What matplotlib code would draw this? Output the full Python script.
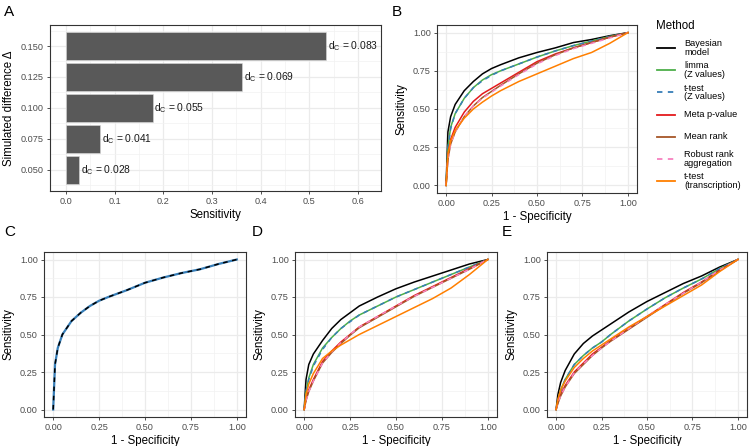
import matplotlib
matplotlib.use("Agg")
import matplotlib.pyplot as plt
from matplotlib.lines import Line2D
from matplotlib.ticker import MultipleLocator

plt.rcParams['font.family'] = ['Liberation Sans', 'DejaVu Sans']
plt.rcParams['mathtext.fontset'] = 'custom'
plt.rcParams['mathtext.rm'] = 'Liberation Sans'

# ---- panel A data ----
delta = [0.050, 0.075, 0.100, 0.125, 0.150]
sens = [0.027, 0.071, 0.178, 0.362, 0.535]
dc_labels = ["0.028", "0.041", "0.055", "0.069", "0.083"]

# ---- ROC data ----
fpr = [0, 0.01, 0.025, 0.05, 0.1, 0.15, 0.2, 0.25, 0.3, 0.4, 0.5, 0.6, 0.7, 0.8, 0.9, 1.0]

methods = ["Bayesian\nmodel", "limma\n(Z values)", "t-test\n(Z values)", "Meta p-value",
           "Mean rank", "Robust rank\naggregation", "t-test\n(transcription)"]
colors = ["#000000", "#4DAF4A", "#377EB8", "#E41A1C", "#A65628", "#F781BF", "#FF7F00"]
styles = ["-", "-", (0, (3, 3)), "-", "-", (0, (3, 3)), "-"]

b_bayes = [0, 0.35, 0.45, 0.53, 0.62, 0.68, 0.73, 0.765, 0.79, 0.835, 0.87, 0.90, 0.935, 0.955, 0.98, 1]
b_limma = [0, 0.25, 0.38, 0.47, 0.57, 0.64, 0.69, 0.725, 0.75, 0.795, 0.84, 0.88, 0.915, 0.945, 0.975, 1]
b_ttz = [0, 0.24, 0.37, 0.47, 0.57, 0.64, 0.685, 0.72, 0.75, 0.795, 0.84, 0.88, 0.915, 0.945, 0.975, 1]
b_meta = [0, 0.2, 0.3, 0.38, 0.48, 0.55, 0.6, 0.635, 0.67, 0.74, 0.81, 0.86, 0.90, 0.935, 0.97, 1]
b_mean = [0, 0.17, 0.27, 0.35, 0.45, 0.52, 0.575, 0.615, 0.655, 0.73, 0.80, 0.855, 0.90, 0.935, 0.97, 1]
b_rra = [0, 0.17, 0.27, 0.35, 0.45, 0.52, 0.57, 0.61, 0.65, 0.725, 0.795, 0.85, 0.895, 0.93, 0.965, 1]
b_ttt = [0, 0.2, 0.29, 0.36, 0.44, 0.5, 0.545, 0.585, 0.62, 0.68, 0.73, 0.78, 0.83, 0.87, 0.93, 1]

c_curve = [0, 0.3, 0.41, 0.5, 0.59, 0.645, 0.69, 0.725, 0.75, 0.795, 0.845, 0.88, 0.91, 0.935, 0.97, 1]

d_bayes = [0, 0.2, 0.3, 0.37, 0.46, 0.54, 0.6, 0.645, 0.69, 0.75, 0.805, 0.85, 0.89, 0.93, 0.97, 1]
d_limma = [0, 0.12, 0.21, 0.3, 0.41, 0.48, 0.54, 0.59, 0.63, 0.69, 0.75, 0.80, 0.85, 0.90, 0.95, 1]
d_ttz = [0, 0.12, 0.2, 0.29, 0.40, 0.48, 0.54, 0.585, 0.63, 0.69, 0.75, 0.80, 0.85, 0.90, 0.95, 1]
d_meta = [0, 0.07, 0.13, 0.2, 0.32, 0.39, 0.45, 0.5, 0.55, 0.62, 0.69, 0.76, 0.82, 0.88, 0.94, 1]
d_mean = [0, 0.06, 0.12, 0.19, 0.31, 0.38, 0.44, 0.495, 0.545, 0.615, 0.685, 0.755, 0.815, 0.875, 0.935, 1]
d_rra = [0, 0.06, 0.12, 0.19, 0.31, 0.385, 0.445, 0.5, 0.55, 0.62, 0.69, 0.755, 0.815, 0.875, 0.935, 1]
d_ttt = [0, 0.1, 0.17, 0.24, 0.34, 0.39, 0.43, 0.465, 0.5, 0.56, 0.62, 0.68, 0.74, 0.81, 0.90, 1]

e_bayes = [0, 0.1, 0.18, 0.26, 0.37, 0.44, 0.49, 0.53, 0.57, 0.65, 0.72, 0.78, 0.84, 0.89, 0.95, 1]
e_limma = [0, 0.06, 0.13, 0.2, 0.3, 0.36, 0.41, 0.45, 0.5, 0.59, 0.67, 0.745, 0.81, 0.87, 0.94, 1]
e_ttz = [0, 0.06, 0.12, 0.2, 0.3, 0.36, 0.41, 0.45, 0.5, 0.59, 0.67, 0.745, 0.81, 0.87, 0.94, 1]
e_meta = [0, 0.05, 0.1, 0.16, 0.25, 0.31, 0.37, 0.415, 0.46, 0.54, 0.62, 0.7, 0.78, 0.85, 0.93, 1]
e_mean = [0, 0.04, 0.09, 0.15, 0.24, 0.30, 0.36, 0.41, 0.455, 0.535, 0.615, 0.695, 0.775, 0.845, 0.925, 1]
e_rra = [0, 0.05, 0.09, 0.15, 0.245, 0.305, 0.36, 0.41, 0.455, 0.54, 0.62, 0.70, 0.775, 0.85, 0.93, 1]
e_ttt = [0, 0.07, 0.13, 0.19, 0.28, 0.34, 0.39, 0.43, 0.47, 0.55, 0.62, 0.69, 0.76, 0.83, 0.92, 1]

W, H = 749, 446
fig = plt.figure(figsize=(W / 100, H / 100), dpi=100)

TICK_FS = 6.6
TITLE_FS = 8.3


def px_axes(left, top, right, bottom):
    return fig.add_axes([left / W, 1 - bottom / H, (right - left) / W, (bottom - top) / H])


def style_axes(ax):
    ax.set_facecolor("white")
    for s in ax.spines.values():
        s.set_color("#333333")
        s.set_linewidth(0.8)
    ax.grid(which="major", color="#EBEBEB", linewidth=0.9)
    ax.grid(which="minor", color="#F2F2F2", linewidth=0.5)
    ax.set_axisbelow(True)
    ax.tick_params(which="major", length=2.5, width=0.6, color="#333333",
                   labelsize=TICK_FS, labelcolor="#4D4D4D", pad=2)
    ax.tick_params(which="minor", length=0)


def roc_axes(ax):
    style_axes(ax)
    ax.set_xlim(-0.05, 1.05)
    ax.set_ylim(-0.05, 1.05)
    ax.xaxis.set_major_locator(MultipleLocator(0.25))
    ax.yaxis.set_major_locator(MultipleLocator(0.25))
    ax.xaxis.set_minor_locator(MultipleLocator(0.125))
    ax.yaxis.set_minor_locator(MultipleLocator(0.125))
    ax.xaxis.set_major_formatter(lambda v, p: f"{v:.2f}")
    ax.yaxis.set_major_formatter(lambda v, p: f"{v:.2f}")
    ax.set_xlabel("1 - Specificity", fontsize=TITLE_FS, labelpad=2)
    ax.set_ylabel("Sensitivity", fontsize=TITLE_FS, labelpad=4)


# ---- A ----
axA = px_axes(50, 25, 381, 191)
style_axes(axA)
axA.barh(delta, sens, height=0.0225, color="#595959", edgecolor="#D9D9D9", linewidth=0.4)
for y, v, lab in zip(delta, sens, dc_labels):
    axA.text(v + 0.004, y, r"d$_\mathrm{C}$ = " + lab, va="center", ha="left",
             fontsize=7.4, color="#1A1A1A")
axA.set_xlim(-0.0325, 0.647)
axA.set_ylim(0.0327, 0.167)
axA.xaxis.set_major_locator(MultipleLocator(0.1))
axA.xaxis.set_minor_locator(MultipleLocator(0.05))
axA.yaxis.set_major_locator(MultipleLocator(0.025))
axA.yaxis.set_minor_locator(MultipleLocator(0.0125))
axA.xaxis.set_major_formatter(lambda v, p: f"{v:.1f}")
axA.yaxis.set_major_formatter(lambda v, p: f"{v:.3f}")
axA.set_xlabel("Sensitivity", fontsize=TITLE_FS, labelpad=2)
axA.set_ylabel("Simulated difference \u0394", fontsize=TITLE_FS, labelpad=4)

# ---- B ----
axB = px_axes(437, 25, 637, 193)
roc_axes(axB)
for vals, c, ls in zip([b_bayes, b_limma, b_ttz, b_meta, b_mean, b_rra, b_ttt], colors, styles):
    axB.plot(fpr, vals, color=c, linestyle=ls, linewidth=1.1)

# legend, drawn by hand so every key gets the same height (as ggplot does)
fig.text(656 / W, 1 - 26 / H, "Method", fontsize=TITLE_FS, ha="left", va="center")
for i, (lab, c, ls) in enumerate(zip(methods, colors, styles)):
    yc = 1 - (48 + 22.2 * i) / H
    fig.add_artist(Line2D([657 / W, 675 / W], [yc, yc], color=c, linestyle=ls,
                          linewidth=1.3, transform=fig.transFigure))
    fig.text(684 / W, yc, lab, fontsize=TICK_FS, ha="left", va="center", linespacing=0.95)

# ---- C ----
axC = px_axes(44, 252, 246, 417)
roc_axes(axC)
axC.plot(fpr, c_curve, color="#377EB8", linewidth=1.6)
axC.plot(fpr, c_curve, color="#000000", linestyle=(0, (3, 3)), linewidth=1.1)

# ---- D ----
axD = px_axes(295, 252, 497, 417)
roc_axes(axD)
for vals, c, ls in zip([d_bayes, d_limma, d_ttz, d_meta, d_mean, d_rra, d_ttt], colors, styles):
    axD.plot(fpr, vals, color=c, linestyle=ls, linewidth=1.1)

# ---- E ----
axE = px_axes(547, 252, 747, 417)
roc_axes(axE)
for vals, c, ls in zip([e_bayes, e_limma, e_ttz, e_meta, e_mean, e_rra, e_ttt], colors, styles):
    axE.plot(fpr, vals, color=c, linestyle=ls, linewidth=1.1)

# panel letters
for lab, x, y in [("A", 4, 12), ("B", 392, 12), ("C", 4, 232), ("D", 252, 232), ("E", 502, 232)]:
    fig.text(x / W, 1 - y / H, lab, fontsize=11, ha="left", va="center")

fig.savefig("out.png", dpi=100)
